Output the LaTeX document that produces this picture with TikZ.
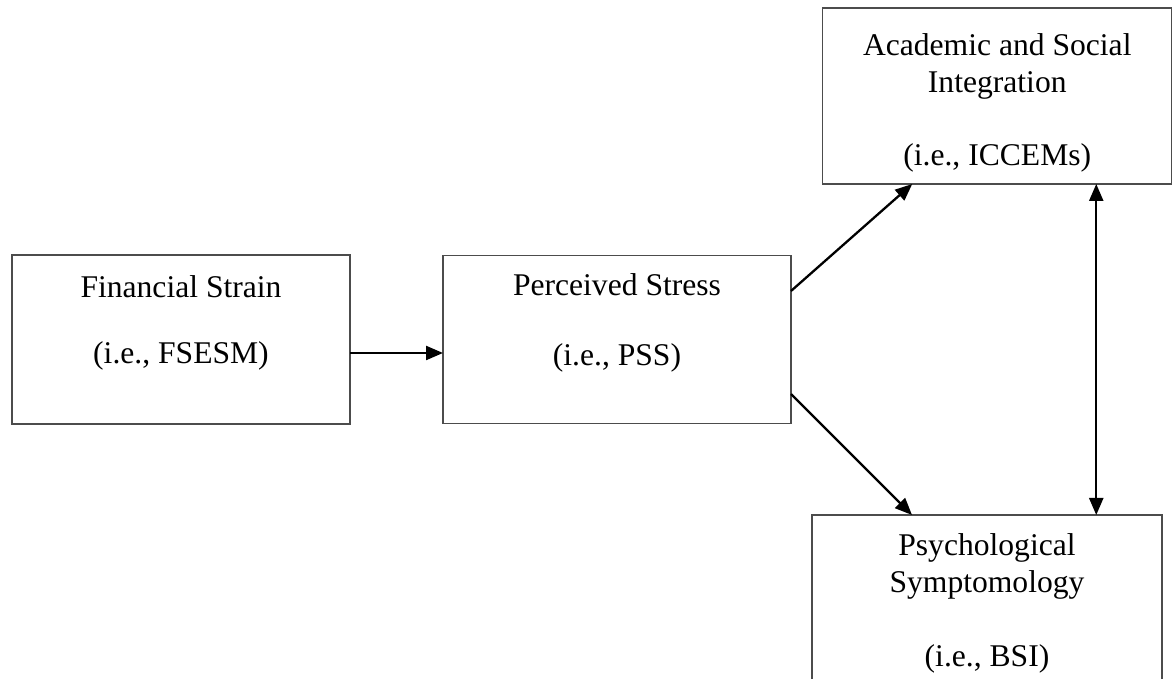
\documentclass[tikz,border=0pt]{standalone}
\usepackage{fontspec}
\setmainfont{Liberation Serif}
\usetikzlibrary{positioning,arrows.meta}
\begin{document}
\begin{tikzpicture}[x=0.5pt, y=0.5pt,
	box/.style={draw=black!70, line width=0.65pt, outer sep=0pt, inner sep=0pt},
	lbl/.style={align=center, inner sep=0pt, font=\fontsize{15.8}{18.5}\selectfont},
	path/.style={line width=1.15pt, -{Triangle[length=8.5pt,width=7pt]}},
	both/.style={line width=1.15pt, {Triangle[length=8.5pt,width=7pt]}-{Triangle[length=8.5pt,width=7pt]}}]
%
% model: strain -> stress -> integration / symptoms
\useasboundingbox (0,0) rectangle (1173,679);

%% boxes
\node[box, minimum width=169pt, minimum height=84.5pt] (fs) at (181,339.5) {};
\node[box, minimum width=174pt, minimum height=84pt] (ps) at (617,339.5) {};
\node[box, minimum width=174.5pt, minimum height=88pt] (asi) at (997.25,583) {};
\node[box, minimum width=175pt, minimum height=90pt] (psy) at (987,74) {};

%% labels
\node[lbl, below=10pt of fs.north] (fstext) {Financial Strain\\[14.5pt](i.e., FSESM)};
\node[lbl, below=9pt of ps.north] (pstext) {Perceived Stress\\[16.5pt](i.e., PSS)};
\node[lbl, below=12.6pt of asi.north] (asitext) {Academic and Social\\Integration\\[18pt](i.e., ICCEMs)};
\node[lbl, below=9pt of psy.north] (psytext) {Psychological\\Symptomology\\[18.5pt](i.e., BSI)};

%% arrows
\draw[path] ([yshift=-6.75pt]fs.east) -- ([yshift=-6.75pt]ps.west);
\draw[path] ([yshift=24.25pt]ps.east) -- ([xshift=-42.5pt]asi.south);
\draw[path] ([yshift=-27.25pt]ps.east) -- ([xshift=-37.5pt]psy.north);
\coordinate (link) at ([xshift=49.5pt]asi.south);
\draw[both] (link) -- (link |- psy.north);
\end{tikzpicture}
\end{document}
